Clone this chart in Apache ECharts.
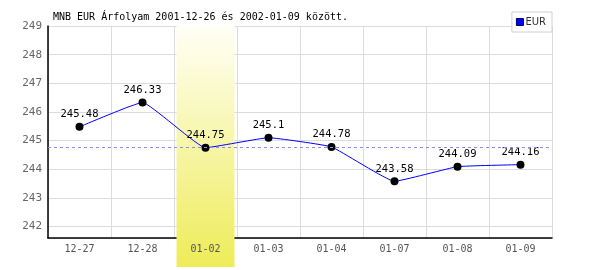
<!DOCTYPE html>
<html>
<head>
<meta charset="utf-8">
<script src="https://cdn.jsdelivr.net/npm/echarts@6/dist/echarts.min.js"></script>
<style>html,body{margin:0;padding:0;background:#fff}#c{width:600px;height:270px}</style>
</head>
<body>
<div id="c"></div>
<script>
const categories = ['12-27','12-28','01-02','01-03','01-04','01-07','01-08','01-09'];
const eurValues = [245.48, 246.33, 244.75, 245.1, 244.78, 243.58, 244.09, 244.16];
const highlightCategory = ['01-02'];
const yMin = 241.6, yMax = 249;
const titleText = 'MNB EUR Árfolyam 2001-12-26 és 2002-01-09 között.';

const chart = echarts.init(document.getElementById('c'), null, {renderer:'canvas'});
const mono = 'DejaVu Sans Mono';
chart.setOption({
  animation: false,
  backgroundColor: '#fff',
  title: {
    text: titleText, left: 48, top: 7,
    textStyle: {fontFamily: mono, fontSize: 10, fontWeight: 'normal', color: '#000'}
  },
  legend: {
    right: 48, top: 12, orient: 'vertical',
    backgroundColor: '#fff', borderColor: '#d0d0d0', borderWidth: 1, borderRadius: 0,
    padding: [5, 6, 5, 4], itemWidth: 7, itemHeight: 7, itemGap: 2,
    icon: 'rect',
    textStyle: {fontFamily: 'DejaVu Sans', fontSize: 10, color: '#333', padding: [0,0,0,-3]},
    data: [{name: 'EUR', itemStyle: {color: '#0000ff', borderColor: '#000066', borderWidth: 1}}]
  },
  grid: {left: 48, right: 48, top: 26, bottom: 32},
  xAxis: [{
    type: 'category', data: categories, boundaryGap: true, position: 'bottom',
    axisLine: {lineStyle: {color: '#000', width: 1.5}},
    axisTick: {show: false}, axisLabel: {show: false},
    splitLine: {show: true, lineStyle: {color: '#dcdcdc', width: 1}},
    z: 0
  }, {
    type: 'category', data: categories, boundaryGap: true, position: 'bottom',
    axisLine: {show: false}, axisTick: {show: false}, splitLine: {show: false},
    axisLabel: {fontFamily: mono, fontSize: 10, color: '#555', margin: 6},
    z: 10
  }],
  yAxis: {
    type: 'value', min: yMin, max: yMax, splitNumber: 7,
    axisLine: {show: true, lineStyle: {color: '#000', width: 1.5}},
    axisTick: {show: false},
    axisLabel: {fontFamily: mono, fontSize: 11, color: '#666', margin: 6,
      formatter: v => Math.abs(v - Math.round(v)) < 1e-6 ? String(Math.round(v)) : ''},
    splitLine: {show: true, lineStyle: {color: '#dcdcdc', width: 1}},
    z: 0
  },
  series: [{
    type: 'custom', name: 'band', xAxisIndex: 0, clip: false, z: 2, silent: true,
    data: highlightCategory.map(c => [c, yMax]),
    renderItem: function (params, api) {
      const p = api.coord([api.value(0), api.value(1)]);
      const w = api.size([1, 0])[0] * 0.92;
      const h = api.getHeight() - 3 - p[1];
      return {
        type: 'rect',
        shape: {x: p[0] - w / 2, y: p[1], width: w, height: h},
        style: {fill: new echarts.graphic.LinearGradient(0, 0, 0, 1, [
          {offset: 0, color: '#fffff6'},
          {offset: 1, color: '#eeec58'}
        ])}
      };
    }
  }, {
    type: 'line', name: 'EUR', data: eurValues, xAxisIndex: 0, z: 4,
    smooth: 0.1,
    lineStyle: {color: '#0000ff', width: 1},
    itemStyle: {color: '#000'},
    symbol: 'circle', symbolSize: 8, showAllSymbol: true,
    label: {show: true, position: 'top', distance: 3, fontFamily: mono, fontSize: 10.5, color: '#000'},
    markLine: {
      silent: true, symbol: 'none', label: {show: false},
      lineStyle: {color: '#8c8cf0', type: [3, 3], width: 1},
      data: [{type: 'average'}]
    }
  }]
});
</script>
</body>
</html>
